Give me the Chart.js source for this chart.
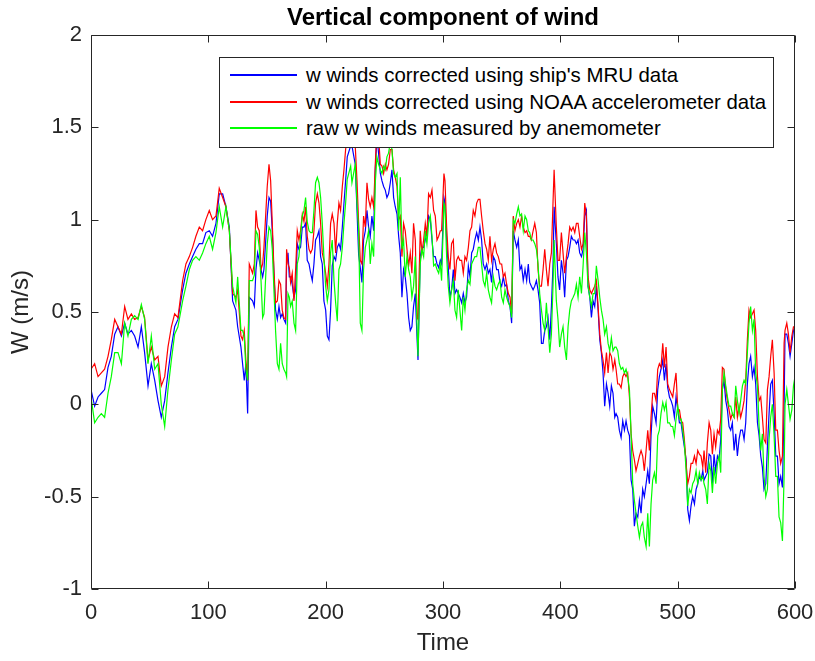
<!DOCTYPE html>
<html><head><meta charset="utf-8">
<script src="https://cdn.jsdelivr.net/npm/chart.js@4"></script>
<style>
html,body{margin:0;padding:0;background:#fff;}
#wrap{position:relative;width:815px;height:661px;}
#title{position:absolute;left:91px;top:2px;width:704px;height:29px;line-height:29px;text-align:center;font-family:"Liberation Sans",Arial,sans-serif;font-size:24px;font-weight:bold;color:#000;white-space:nowrap;}
#legend{position:absolute;left:219px;top:57px;width:555px;height:91px;box-sizing:border-box;border:1px solid #262626;background:#fff;font-family:"Liberation Sans",Arial,sans-serif;font-size:20.4px;color:#000;}
.row{position:absolute;left:0;height:24px;line-height:24px;width:100%;}
.swatch{position:absolute;left:10px;top:11px;width:67px;height:1.5px;}
.lbl{position:absolute;left:86px;top:0;white-space:nowrap;}
</style></head>
<body>
<div id="wrap">
<canvas id="c" width="815" height="661"></canvas>
<div id="title"></div>
<div id="legend"></div>
</div>
<script>
const title = "Vertical component of wind";
const xTitle = "Time";
const yTitle = "W (m/s)";
const seriesNames = ["w winds corrected using ship's MRU data","w winds corrected using NOAA accelerometer data","raw w winds measured by anemometer"];
const seriesColors = ["#0000ff","#ff0000","#00ff00"];
const xTickLabels = ["0","100","200","300","400","500","600"];
const yTickLabels = ["-1","-0.5","0","0.5","1","1.5","2"];

const time = [0,3.1,6.0,8.8,11.6,14.5,17.3,20.2,23.0,25.9,28.7,31.5,34.4,37.2,40.1,42.9,45.7,48.6,51.4,54.3,57.1,59.9,62.8,65.6,68.5,71.3,74.1,
78.1,80.9,83.8,86.6,89.4,92.3,95.1,97.9,100.8,103.6,106.5,109.3,112.2,115.0,117.9,120.7,123.5,125.0,127.8,129.2,130.6,132.0,133.5,134.9,137.7,139.2,140.6,142.0,143.4,144.9,146.3,
147.4,150.2,151.7,153.1,154.5,155.9,157.3,158.8,160.2,161.6,163.0,164.4,165.9,166.7,167.9,169.0,170.1,171.5,173.0,174.4,175.8,177.2,178.6,180.1,181.5,182.9,184.3,185.8,187.2,188.6,190.0,191.4,192.9,194.3,195.7,197.1,198.5,200.0,201.4,202.8,204.2,205.6,207.1,208.5,209.9,211.3,212.7,214.2,215.6,217.0,218.4,221.3,
222.4,225.2,226.7,228.1,229.5,230.9,232.3,233.8,235.2,236.6,238.0,239.4,240.9,242.3,243.7,245.1,246.6,248.0,249.4,250.8,252.2,253.6,255.1,256.5,257.9,259.3,260.8,262.2,263.6,265.0,266.4,267.8,269.3,270.7,272.1,273.5,274.9,276.4,277.8,278.7,280.6,282.0,283.5,284.9,286.3,287.7,289.2,290.6,292.0,293.4,294.9,296.3,297.7,
298.8,300.8,301.7,303.1,304.5,305.9,307.3,308.8,310.2,311.6,313.0,314.4,315.9,317.3,318.7,320.1,321.6,323.0,324.4,325.8,327.2,328.7,330.1,331.5,332.9,334.3,335.8,337.2,338.6,340.0,341.4,342.9,344.3,345.7,347.1,348.6,350.0,351.4,352.8,354.2,355.7,357.1,358.5,359.9,361.3,362.8,364.2,365.6,367.0,368.4,369.9,371.3,372.7,
373.9,375.3,376.8,378.2,379.6,381.0,382.4,383.9,385.3,386.7,388.1,389.5,391.0,392.4,393.8,394.7,396.6,398.0,399.4,400.9,402.3,403.7,405.2,406.6,408.0,409.4,410.9,412.3,413.7,415.1,416.5,418.0,419.4,420.8,422.2,423.6,425.1,426.5,427.9,429.3,430.7,432.2,433.6,435.0,436.4,437.8,439.3,440.7,442.1,443.5,444.9,446.4,
447.5,448.9,450.3,451.8,453.2,454.6,456.0,457.4,458.9,460.3,461.7,463.1,464.5,466.0,467.4,468.8,470.2,471.6,473.1,474.5,475.9,477.3,478.7,480.2,481.6,483.0,484.4,485.8,487.3,488.7,490.1,491.5,493.0,494.4,495.8,497.2,498.6,500.1,501.5,502.9,504.3,505.7,507.2,508.6,510.0,511.4,512.8,514.3,515.7,517.1,518.5,519.9,521.4,
522.5,523.9,525.3,526.8,528.2,529.6,531.0,532.4,533.9,535.3,536.7,538.1,539.5,541.0,542.4,543.8,545.2,546.6,548.1,549.5,550.9,552.3,553.7,555.2,556.6,558.0,559.4,560.8,562.2,563.7,565.1,566.5,568.0,569.4,570.8,572.2,573.6,575.1,576.5,577.9,579.3,580.7,582.2,583.6,585.0,586.4,587.8,589.3,590.7,591.5,593.0,594.4,595.8,597.3,598.7,600];

const wMRU = [.08,-.01,.04,.06,.08,.2,.26,.38,.42,.37,.44,.38,.4,.37,.31,.42,.28,.1,.22,.13,.02,-.07,.02,.17,.31,.42,.46,
.62,.71,.76,.8,.84,.87,.87,.93,.94,.91,.98,1.14,1.14,1.07,.96,.56,.51,.42,.31,.22,.13,.22,-.05,.58,.56,.53,.73,.82,.78,.73,.69,
.73,1.02,1.12,1.1,.94,.71,.51,.46,.53,.47,.49,.46,.44,.76,.82,.69,.69,.65,.58,.62,.87,.84,.85,.96,.96,.98,.78,.76,.71,.67,.76,.89,.91,.94,.8,.76,.56,.51,.37,.35,.51,.75,.8,.78,.85,.87,.84,.96,1.09,1.21,1.34,1.4,
1.4,1.3,1.05,.81,.74,.66,.89,.94,1.05,.96,.91,1.02,.94,1.27,1.45,1.36,1.25,1.21,1.18,1.16,1.12,1.14,1.2,1.27,1.12,1.07,1.03,.91,.82,.58,.73,.69,.6,.47,.4,.42,.53,.6,.37,.24,.8,.85,.85,.89,.93,1.02,1.0,.89,.8,.8,.76,.74,.78,
.76,1.12,1.09,.89,.74,.58,.62,.73,.6,.62,.6,.58,.55,.6,.55,.58,.75,.69,.82,.84,.89,.93,.89,.96,.89,.76,.73,.76,.71,.73,.66,.8,.78,.73,.73,.66,.64,.69,.64,.65,.56,.53,.44,.94,.89,.85,.89,.73,.75,.67,.73,.67,.76,
.66,.64,.62,.64,.67,.62,.55,.33,.33,.4,.42,.47,.35,.53,.76,1.07,.87,.69,.62,.78,.71,.58,.78,.8,.85,.91,.89,.89,.87,.89,.82,.8,.84,1.02,1.05,.64,.58,.47,.56,.53,.64,.51,.35,.28,.17,-.01,.11,.06,-.01,.1,.06,-.07,
-.05,-.07,-.14,-.18,-.09,-.14,-.09,-.14,-.17,-.41,-.46,-.66,-.59,-.61,-.52,-.59,-.46,-.5,-.43,-.36,-.43,-.17,-.01,-.05,-.1,.08,.15,.19,.24,.13,.22,.09,.04,.02,-.01,-.07,.04,-.03,-.1,-.1,-.17,-.23,-.3,-.57,-.63,-.55,-.5,-.54,-.46,-.43,-.39,-.41,-.36,
-.41,-.39,-.37,-.27,-.28,-.43,-.27,-.36,-.28,-.3,-.19,.08,.13,.02,-.03,-.12,-.14,-.1,-.25,-.16,-.28,-.19,-.14,-.14,-.19,-.1,.11,.22,.26,.15,.2,.11,-.1,-.17,-.28,-.34,-.46,-.43,-.23,-.05,.11,.13,-.05,-.28,-.28,-.43,-.39,-.45,-.01,.38,.38,.33,.26,.33,.4,.42];

const wNOAA = [.19,.22,.15,.17,.19,.26,.35,.46,.42,.38,.53,.46,.49,.46,.47,.53,.47,.24,.31,.24,.26,.1,.15,.31,.42,.49,.47,
.67,.76,.8,.85,.91,.96,.94,1.0,1.05,1.0,1.02,1.17,1.12,1.07,.94,.6,.58,.62,.37,.35,.4,.24,.13,.76,.71,.76,1.05,.96,.94,.73,.76,
.85,1.18,1.3,1.21,.98,.73,.55,.56,.67,.65,.51,.47,.46,.84,.76,.74,.66,.71,.56,.73,.94,.89,.94,1.03,.99,1.07,.91,.84,.82,.84,.94,1.09,1.14,1.09,.98,.82,.78,.71,.64,.76,.98,1.03,.98,.82,.98,1.09,1.05,1.18,1.27,1.38,1.45,1.5,
1.5,1.4,1.21,.98,.78,.76,1.02,.96,1.2,1.11,1.07,1.12,1.07,1.3,1.5,1.45,1.3,1.29,1.25,1.3,1.27,1.3,1.38,1.38,1.27,1.23,1.18,1.0,1.02,.8,.98,.94,.84,.75,.82,.71,.98,.89,.47,.46,.94,.82,.89,.98,.91,1.14,1.12,1.16,1.05,1.02,.89,.91,.94,
.94,1.25,1.21,.96,.8,.73,.87,.89,.67,.78,.8,.78,.78,.71,.8,.78,.85,.94,.96,1.05,1.02,1.09,1.11,1.11,1.02,.94,.87,.84,.78,.91,.78,.84,.87,.82,.8,.76,.76,.69,.71,.65,.6,.58,.49,1.02,.94,.98,1.0,.96,1.02,.96,.93,.94,.91,
.91,.89,.94,.98,.93,.73,.64,.64,.73,.84,.73,.64,.76,.82,1.1,1.27,.96,.78,.78,.93,.82,.71,.8,.87,.96,.94,.96,.93,.98,.98,.91,.84,.87,1.09,1.02,.69,.62,.6,.62,.64,.67,.53,.38,.29,.24,.17,.28,.17,.28,.26,.19,.24,
.19,.11,.11,.09,.15,.17,.15,.17,.04,-.16,-.25,-.3,-.36,-.32,-.28,-.25,-.28,-.36,-.25,-.14,-.25,-.07,.06,.06,.02,.19,.22,.2,.33,.2,.31,.11,.08,.06,.04,.11,.17,-.03,-.03,-.09,-.1,-.19,-.32,-.43,-.39,-.32,-.32,-.28,-.32,-.25,-.27,-.28,-.34,
-.25,-.37,-.21,-.1,-.14,-.27,-.16,-.23,-.14,-.16,-.08,.2,.19,.08,.02,-.03,-.08,-.05,-.07,.04,-.07,-.01,-.07,-.03,.02,.13,.35,.51,.47,.49,.51,.4,.15,.02,.04,-.07,-.19,-.21,.08,.15,.26,.35,.17,-.14,-.14,-.25,-.32,-.28,.33,.4,.44,.38,.28,.37,.42,.42];

const wRaw = [.04,-.1,-.07,-.05,-.07,.06,.15,.28,.28,.22,.44,.37,.46,.48,.46,.54,.46,.22,.37,.19,.22,0,-.12,.08,.24,.38,.42,
.56,.64,.73,.78,.8,.78,.82,.87,.91,.84,.93,1.07,.96,1.07,.94,.64,.55,.69,.4,.4,.37,.19,.13,.67,.67,.7,.94,.92,.85,.67,.47,
.49,.87,.96,.94,.84,.62,.4,.22,.19,.33,.22,.19,.17,.15,.6,.58,.53,.56,.44,.4,.76,.8,.91,1.02,1.05,1.12,.99,.94,.93,.93,1.05,1.2,1.23,1.2,1.12,.98,.8,.64,.56,.62,.82,.89,.67,.55,.45,.73,.76,.85,.98,1.09,1.22,1.29,
1.2,1.3,1.09,.94,.44,.4,.73,.85,.89,.94,.76,.87,.8,1.2,1.34,1.3,1.27,1.25,1.29,1.27,1.34,1.36,1.42,1.38,1.25,1.23,1.25,.94,1.23,.84,.89,.69,.8,.73,.69,.58,.64,.8,.44,.26,.76,.84,.8,.94,.87,.98,1.02,.91,.75,.76,.73,.71,.76,
.67,1.09,1.07,.8,.64,.55,.62,.67,.51,.47,.62,.51,.4,.58,.51,.62,.67,.65,.76,.78,.8,.8,.85,.85,.76,.67,.64,.71,.62,.58,.55,.69,.64,.62,.65,.67,.58,.55,.62,.58,.55,.53,.47,1.0,.98,1.03,1.07,1.02,1.03,.94,1.02,1.0,.94,
.93,.89,.89,.87,.84,.76,.6,.51,.44,.4,.55,.42,.28,.38,.65,.89,.56,.46,.31,.38,.42,.31,.24,.42,.51,.56,.58,.6,.65,.58,.69,.6,.75,.93,.82,.64,.58,.53,.6,.6,.75,.67,.58,.51,.46,.38,.42,.33,.29,.36,.29,.31,
.31,.29,.22,.19,.2,.17,.19,.15,.08,-.16,-.43,-.52,-.59,-.66,-.72,-.66,-.64,-.72,-.77,-.59,-.77,-.54,-.41,-.37,-.43,-.17,-.14,-.05,.01,-.03,.01,-.1,-.1,-.12,-.12,-.17,-.08,-.01,-.08,-.08,-.14,-.21,-.36,-.55,-.46,-.48,-.43,-.41,-.36,-.43,-.37,-.41,-.39,
-.43,-.46,-.54,-.32,-.36,-.48,-.34,-.43,-.32,-.28,-.37,.08,.17,.1,.04,-.01,-.01,-.05,-.07,.1,.02,-.05,.02,.1,.13,.11,.28,.44,.53,.4,.46,.17,.1,-.12,-.25,-.16,-.39,-.5,-.46,-.19,-.07,0,-.17,-.39,-.39,-.61,-.64,-.74,-.39,0,.08,0,-.08,-.03,.1,.15];

const FONT = '"Liberation Sans", Arial, Helvetica, sans-serif';
Chart.defaults.font.family = FONT;
Chart.defaults.color = '#262626';

const seriesValues = [wMRU, wNOAA, wRaw];
const datasets = seriesValues.map((vals, i) => ({
  label: seriesNames[i],
  data: time.map((t, k) => ({x: t, y: vals[k]})),
  borderColor: seriesColors[i],
  backgroundColor: seriesColors[i],
  borderWidth: 1.2,
  pointRadius: 0,
  tension: 0,
  fill: false,
  order: 2 - i
}));

const boxPlugin = {
  id: 'matlabBox',
  afterDatasetsDraw(chart) {
    const {ctx, chartArea: a, scales: {x, y}} = chart;
    const L = 7;
    ctx.save();
    ctx.strokeStyle = '#262626';
    ctx.lineWidth = 1;
    ctx.beginPath();
    const l = Math.round(a.left) + 0.5, r = Math.round(a.right) - 0.5;
    const t = Math.round(a.top) + 0.5, b = Math.round(a.bottom) - 0.5;
    ctx.rect(l, t, r - l, b - t);
    x.ticks.forEach(tk => {
      const px = Math.round(x.getPixelForValue(tk.value)) + 0.5;
      ctx.moveTo(px, b); ctx.lineTo(px, b - L);
      ctx.moveTo(px, t); ctx.lineTo(px, t + L);
    });
    y.ticks.forEach(tk => {
      const py = Math.round(y.getPixelForValue(tk.value)) + 0.5;
      ctx.moveTo(l, py); ctx.lineTo(l + L, py);
      ctx.moveTo(r, py); ctx.lineTo(r - L, py);
    });
    ctx.stroke();
    ctx.restore();
  }
};

new Chart(document.getElementById('c'), {
  type: 'line',
  data: { datasets },
  plugins: [boxPlugin],
  options: {
    responsive: false,
    animation: false,
    devicePixelRatio: 1,
    layout: { padding: { left: 0, right: 20, top: 35, bottom: 0 } },
    plugins: {
      legend: { display: false },
      tooltip: { enabled: false },
      title: { display: false }
    },
    scales: {
      x: {
        type: 'linear', min: 0, max: 600,
        grid: { display: false, drawTicks: false },
        border: { display: false },
        ticks: { stepSize: 100, padding: 11, color: '#262626', font: { size: 22 },
          callback: (v) => xTickLabels[Math.round(v / 100)] },
        title: { display: true, text: xTitle, color: '#262626', font: { size: 24 }, padding: { top: 0, bottom: 3 } },
        afterFit: (s) => { s.height = 72; s.paddingLeft = 0; s.paddingRight = 0; }
      },
      y: {
        type: 'linear', min: -1, max: 2,
        grid: { display: false, drawTicks: false },
        border: { display: false },
        ticks: { stepSize: 0.5, padding: 9, color: '#262626', font: { size: 22 },
          callback: (v) => yTickLabels[Math.round((v + 1) * 2)] },
        title: { display: true, text: yTitle, color: '#262626', font: { size: 24 }, padding: { top: 7, bottom: 0 } },
        afterFit: (s) => { s.width = 91; s.paddingTop = 0; s.paddingBottom = 0; }
      }
    }
  }
});

document.getElementById('title').textContent = title;
const leg = document.getElementById('legend');
const rowTops = [5, 32, 58];
seriesNames.forEach((name, i) => {
  const row = document.createElement('div');
  row.className = 'row';
  row.style.top = rowTops[i] + 'px';
  const sw = document.createElement('div');
  sw.className = 'swatch';
  sw.style.background = seriesColors[i];
  const lb = document.createElement('div');
  lb.className = 'lbl';
  lb.textContent = name;
  row.appendChild(sw); row.appendChild(lb);
  leg.appendChild(row);
});
</script>
</body></html>
